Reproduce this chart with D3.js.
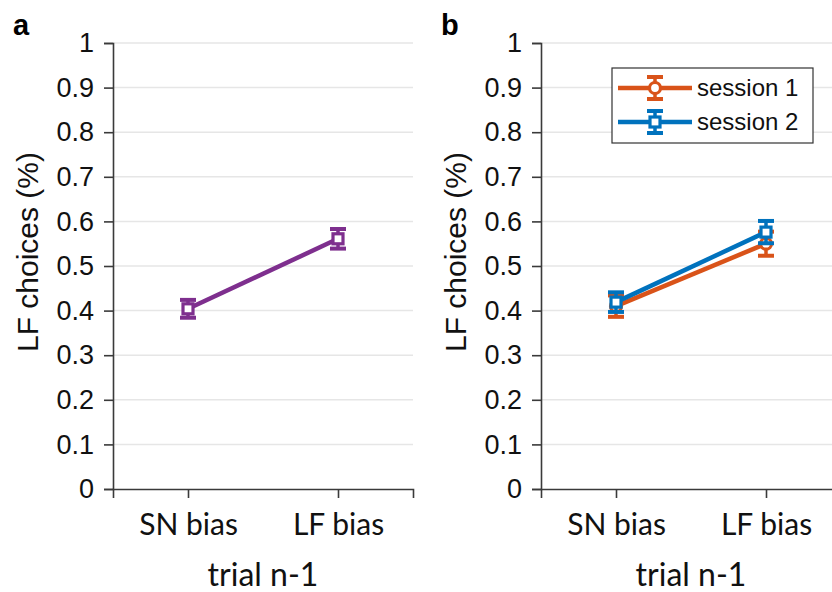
<!DOCTYPE html>
<html>
<head>
<meta charset="utf-8">
<script src="https://cdn.jsdelivr.net/npm/d3@7"></script>
<style>
body { margin: 0; background: #fff; }
svg { display: block; }
</style>
</head>
<body>
<svg width="832" height="592"></svg>
<script>
// data
var categories = ['SN bias', 'LF bias'];
var yTicks = [0, 0.1, 0.2, 0.3, 0.4, 0.5, 0.6, 0.7, 0.8, 0.9, 1];

var allMean = [0.404, 0.561];
var allErr = [0.02, 0.022];

var session1Mean = [0.41, 0.55];
var session1Err = [0.024, 0.027];
var session2Mean = [0.419, 0.576];
var session2Err = [0.022, 0.025];

var purple = '#7E2F8E', orange = '#D95319', blue = '#0072BD';
var axisColor = '#3a3a3a';
var tickFont = 'Liberation Sans, Arial, sans-serif';
var catFont = 'Lato, sans-serif';

var svg = d3.select('svg');

var scaleY = d3.scaleLinear().domain([0, 1]).range([489, 43]);

function drawPanel(left, letter) {
    var g = svg.append('g');
    var scaleX = d3.scaleLinear().domain([0.5, 2.5]).range([left, left + 300]);

    // grid
    g.selectAll('line.grid')
        .data(yTicks.slice(1))
        .enter()
        .append('line')
        .attr('x1', left).attr('x2', left + 300)
        .attr('y1', function(d){ return scaleY(d); })
        .attr('y2', function(d){ return scaleY(d); })
        .attr('stroke', '#e6e6e6')
        .attr('stroke-width', 1.5);

    // y axis
    var yAxis = g.append('g')
        .attr('transform', 'translate(' + left + ',0)')
        .call(d3.axisLeft(scaleY).tickValues(yTicks).tickFormat(d3.format('')).tickSizeOuter(0).tickSize(9).tickPadding(10));
    yAxis.select('.domain').attr('stroke', axisColor).attr('stroke-width', 1.6);
    yAxis.selectAll('.tick line').attr('stroke', axisColor).attr('stroke-width', 1.6);
    yAxis.selectAll('.tick text').attr('font-family', tickFont).attr('font-size', 27).attr('fill', '#111');

    // x axis
    var xAxis = g.append('g')
        .attr('transform', 'translate(0,489)')
        .call(d3.axisBottom(scaleX).tickValues([1, 2]).tickFormat(function(d){ return categories[d - 1]; }).tickSizeOuter(0).tickSize(9).tickPadding(16));
    xAxis.select('.domain').attr('stroke', axisColor).attr('stroke-width', 1.6);
    xAxis.selectAll('.tick line').attr('stroke', axisColor).attr('stroke-width', 1.6);
    xAxis.selectAll('.tick text').attr('font-family', catFont).attr('font-size', 30).attr('fill', '#111');

    // axis titles
    g.append('text')
        .attr('transform', 'translate(' + (left - 75) + ',252) rotate(-90)')
        .attr('text-anchor', 'middle')
        .attr('font-family', tickFont)
        .attr('font-size', 30)
        .attr('fill', '#111')
        .text('LF choices (%)');

    g.append('text')
        .attr('x', scaleX(1.5))
        .attr('y', 586)
        .attr('text-anchor', 'middle')
        .attr('font-family', catFont)
        .attr('font-size', 32)
        .attr('fill', '#111')
        .text('trial n-1');

    g.append('text')
        .attr('x', left - 100)
        .attr('y', 35)
        .attr('font-family', tickFont)
        .attr('font-weight', 'bold')
        .attr('font-size', 29)
        .attr('fill', '#000')
        .text(letter);

    return { g: g, x: scaleX };
}

function drawSeries(p, mean, err, color, shape) {
    var pts = mean.map(function(m, i){ return { x: i + 1, y: m, e: err[i] }; });
    var line = d3.line()
        .x(function(d){ return p.x(d.x); })
        .y(function(d){ return scaleY(d.y); });

    p.g.append('path')
        .datum(pts)
        .attr('d', line)
        .attr('fill', 'none')
        .attr('stroke', color)
        .attr('stroke-width', 4.5);

    var eb = p.g.selectAll(null).data(pts).enter().append('g');
    eb.append('line')
        .attr('x1', function(d){ return p.x(d.x); })
        .attr('x2', function(d){ return p.x(d.x); })
        .attr('y1', function(d){ return scaleY(d.y - d.e); })
        .attr('y2', function(d){ return scaleY(d.y + d.e); })
        .attr('stroke', color).attr('stroke-width', 3.5);
    [-1, 1].forEach(function(s){
        eb.append('line')
            .attr('x1', function(d){ return p.x(d.x) - 8; })
            .attr('x2', function(d){ return p.x(d.x) + 8; })
            .attr('y1', function(d){ return scaleY(d.y + s * d.e); })
            .attr('y2', function(d){ return scaleY(d.y + s * d.e); })
            .attr('stroke', color).attr('stroke-width', 4);
    });
    drawMarker(eb, function(d){ return p.x(d.x); }, function(d){ return scaleY(d.y); }, color, shape);
}

function drawMarker(sel, fx, fy, color, shape) {
    if (shape === 'circle') {
        sel.append('circle')
            .attr('cx', fx).attr('cy', fy).attr('r', 5.5)
            .attr('fill', '#fff').attr('stroke', color).attr('stroke-width', 3.2);
    } else {
        sel.append('rect')
            .attr('x', function(d){ return fx(d) - 5; })
            .attr('y', function(d){ return fy(d) - 5; })
            .attr('width', 10).attr('height', 10)
            .attr('fill', '#fff').attr('stroke', color).attr('stroke-width', 3.2);
    }
}

var pa = drawPanel(113, 'a');
drawSeries(pa, allMean, allErr, purple, 'square');

var pb = drawPanel(541, 'b');
drawSeries(pb, session1Mean, session1Err, orange, 'circle');
drawSeries(pb, session2Mean, session2Err, blue, 'square');

// legend
var legendItems = [
    { name: 'session 1', color: orange, shape: 'circle' },
    { name: 'session 2', color: blue, shape: 'square' }
];
var leg = svg.append('g');
leg.append('rect')
    .attr('x', 612).attr('y', 68).attr('width', 201).attr('height', 75)
    .attr('fill', '#fff').attr('stroke', '#333').attr('stroke-width', 1.2);
var li = leg.selectAll(null).data(legendItems).enter().append('g')
    .attr('transform', function(d, i){ return 'translate(0,' + (88 + i * 34) + ')'; });
li.append('line').attr('x1', 618).attr('x2', 692).attr('y1', 0).attr('y2', 0)
    .attr('stroke', function(d){ return d.color; }).attr('stroke-width', 4.5);
li.append('line').attr('x1', 655).attr('x2', 655).attr('y1', -11).attr('y2', 11)
    .attr('stroke', function(d){ return d.color; }).attr('stroke-width', 3.5);
[-11, 11].forEach(function(o){
    li.append('line').attr('x1', 647).attr('x2', 663).attr('y1', o).attr('y2', o)
        .attr('stroke', function(d){ return d.color; }).attr('stroke-width', 4);
});
li.each(function(d){
    drawMarker(d3.select(this), function(){ return 655; }, function(){ return 0; }, d.color, d.shape);
});
li.append('text')
    .attr('x', 697).attr('y', 8)
    .attr('font-family', tickFont).attr('font-size', 24).attr('fill', '#111')
    .text(function(d){ return d.name; });
</script>
</body>
</html>
